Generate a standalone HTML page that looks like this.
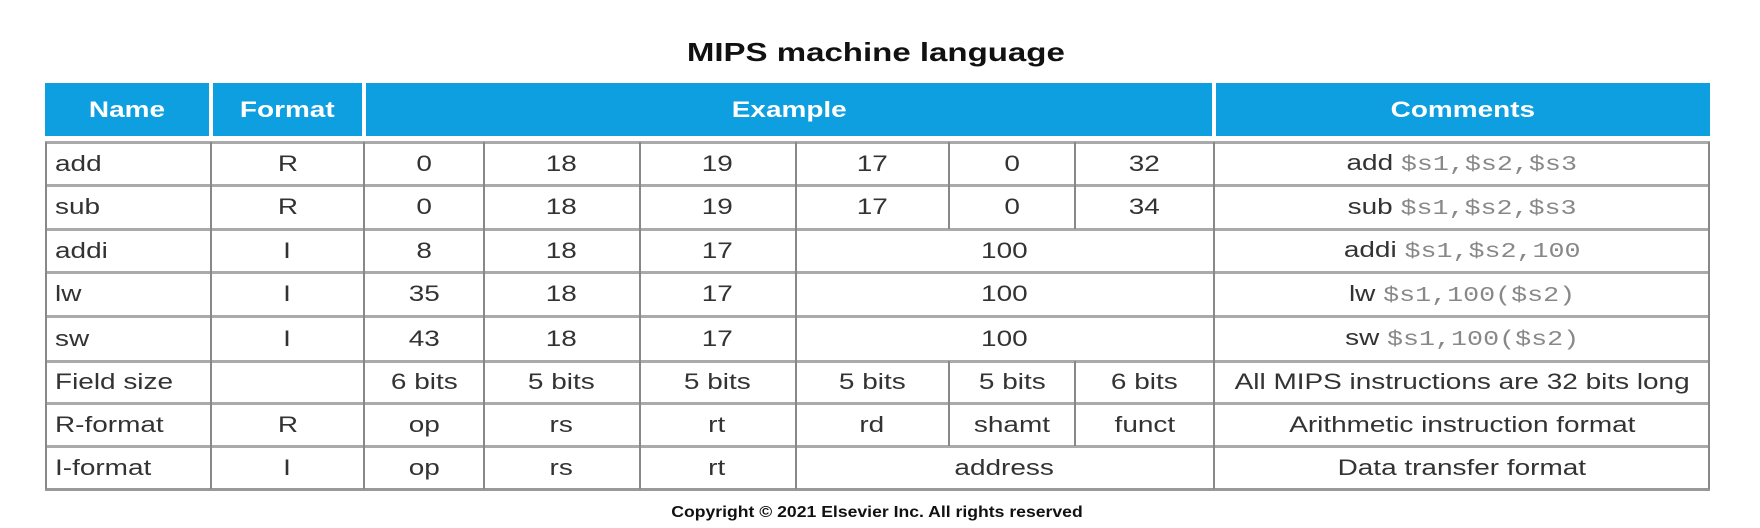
<!DOCTYPE html>
<html><head><meta charset="utf-8"><style>
body{margin:0;width:1760px;height:528px;background:#fff;position:relative;overflow:hidden;font-family:"Liberation Sans",Arial,sans-serif;}
.h{position:absolute;background:#0d9fe0;color:#fff;font-weight:bold;font-size:22px;display:flex;align-items:center;justify-content:center;}
.c{position:absolute;display:flex;align-items:center;justify-content:center;font-size:22px;color:#333;}
.l{justify-content:flex-start;padding-left:10px;box-sizing:border-box;}
.s{display:inline-block;transform:scaleX(1.27);transform-origin:center;white-space:nowrap;}
.l .s{transform-origin:left;}
.m{font-family:"Liberation Mono",monospace;color:#888;font-size:21px;}
.hl{position:absolute;left:45px;width:1665px;height:3px;background:#aaa;}
.vl{position:absolute;width:2px;background:#888;}
</style></head><body>
<div class="c" style="left:600px;top:32px;width:552px;height:40px;font-weight:bold;font-size:26px;color:#111"><span class="s">MIPS machine language</span></div>

<div class="h" style="left:45px;top:83px;width:164px;height:53px"><span class="s">Name</span></div>
<div class="h" style="left:213px;top:83px;width:149px;height:53px"><span class="s">Format</span></div>
<div class="h" style="left:366px;top:83px;width:846px;height:53px"><span class="s">Example</span></div>
<div class="h" style="left:1216px;top:83px;width:494px;height:53px"><span class="s">Comments</span></div>

<div class="hl" style="top:141px"></div>
<div class="hl" style="top:184px"></div>
<div class="hl" style="top:228px"></div>
<div class="hl" style="top:271px"></div>
<div class="hl" style="top:315px"></div>
<div class="hl" style="top:360px"></div>
<div class="hl" style="top:402px"></div>
<div class="hl" style="top:445px"></div>
<div class="hl" style="top:488px;background:#999"></div>

<div class="vl" style="left:45px;top:142px;height:347px"></div>
<div class="vl" style="left:210px;top:142px;height:347px"></div>
<div class="vl" style="left:363px;top:142px;height:347px"></div>
<div class="vl" style="left:483px;top:142px;height:347px"></div>
<div class="vl" style="left:639px;top:142px;height:347px"></div>
<div class="vl" style="left:795px;top:142px;height:347px"></div>
<div class="vl" style="left:948px;top:142px;height:87px"></div>
<div class="vl" style="left:1074px;top:142px;height:87px"></div>
<div class="vl" style="left:948px;top:361px;height:85px"></div>
<div class="vl" style="left:1074px;top:361px;height:85px"></div>
<div class="vl" style="left:1213px;top:142px;height:347px"></div>
<div class="vl" style="left:1708px;top:142px;height:347px"></div>

<div id="rows"></div>
<script>
var X=[45,211,364,484,639,795,949,1075,1214,1710];
var Y=[142,185,229,272,316,361,403,446,489];
var rows=[
["add","R","0","18","19","17","0","32",["add","$s1,$s2,$s3"]],
["sub","R","0","18","19","17","0","34",["sub","$s1,$s2,$s3"]],
["addi","I","8","18","17",["100"],null,null,["addi","$s1,$s2,100"]],
["lw","I","35","18","17",["100"],null,null,["lw","$s1,100($s2)"]],
["sw","I","43","18","17",["100"],null,null,["sw","$s1,100($s2)"]],
["Field size","","6 bits","5 bits","5 bits","5 bits","5 bits","6 bits","All MIPS instructions are 32 bits long"],
["R-format","R","op","rs","rt","rd","shamt","funct","Arithmetic instruction format"],
["I-format","I","op","rs","rt",["address"],null,null,"Data transfer format"]];
var h="";
rows.forEach(function(r,i){
 var t=Y[i],ht=Y[i+1]-Y[i];
 for(var j=0;j<9;j++){
  var v=r[j]; if(v===null)continue;
  var x0=X[j],x1=X[j+1];
  if(Array.isArray(v)&&j==5){x1=X[8];v=v[0];}
  var cls="c"+(j==0?" l":"");
  var inner;
  if(Array.isArray(v)){inner='<span class="s">'+v[0]+'&nbsp;<span class="m">'+v[1]+'</span></span>';}
  else inner='<span class="s">'+v+'</span>';
  h+='<div class="'+cls+'" style="left:'+x0+'px;top:'+t+'px;width:'+(x1-x0)+'px;height:'+ht+'px">'+inner+'</div>';
 }
});
document.getElementById("rows").innerHTML=h;
</script>
<div class="c" style="left:600px;top:500px;width:554px;height:26px;font-size:16px;font-weight:bold;color:#111"><span class="s" style="transform:scaleX(1.1)">Copyright © 2021 Elsevier Inc. All rights reserved</span></div>
</body></html>
